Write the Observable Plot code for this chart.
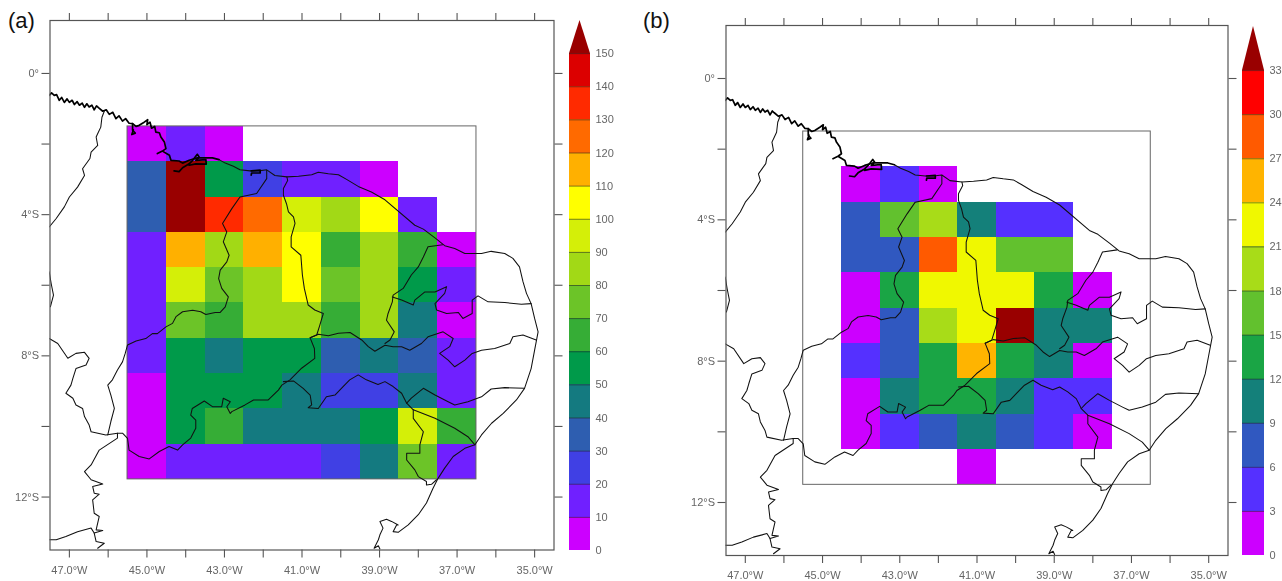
<!DOCTYPE html>
<html>
<head>
<meta charset="utf-8">
<script src="https://cdn.jsdelivr.net/npm/d3@7"></script>
<script src="https://cdn.jsdelivr.net/npm/@observablehq/plot@0.6"></script>
<style>
html,body{margin:0;padding:0;background:#fff;width:1282px;height:581px;overflow:hidden}
.slot{position:absolute;top:0}
.slot svg{display:block;background:transparent;filter:blur(.35px)}
.tag{position:absolute;font:22px "Liberation Sans",Arial,sans-serif;color:#111;line-height:22px}
</style>
</head>
<body>
<div class="tag" style="left:8px;top:10px">(a)</div>
<div class="tag" style="left:643px;top:10px">(b)</div>
<div class="slot" id="mapA" style="left:0"></div>
<div class="slot" id="barA" style="left:565px"></div>
<div class="slot" id="mapB" style="left:640px"></div>
<div class="slot" id="barB" style="left:1238px"></div>
<script>
// ---- panel (a): accumulated value per grid cell ----
const lonsA = [-45,-44,-43,-42,-41,-40,-39,-38,-37];
const latsA = [-2,-3,-4,-5,-6,-7,-8,-9,-10,-11];
const gridA = [
  [5,15,5,null,null,null,null,null,null],
  [35,155,55,25,15,15,5,null,null],
  [35,155,135,125,95,85,105,15,null],
  [15,115,85,115,105,65,85,65,5],
  [15,95,75,85,105,75,85,55,15],
  [15,75,65,85,85,65,85,45,5],
  [15,55,45,55,55,35,45,35,15],
  [5,55,55,55,45,25,25,45,15],
  [5,55,65,45,45,45,55,95,65],
  [5,15,15,15,15,25,45,75,15]
];
const levelsA = [10,20,30,40,50,60,70,80,90,100,110,120,130,140,150];
const coloursA = ["#cc00ff","#7020ff","#4040e4","#2e5eb0","#147a80","#009a4a","#36ad36","#6cc428","#a2d916","#d4ef08","#ffff00","#ffb000","#ff6a00","#ff2a00","#dc0000","#990000"];
const barTicksA = [0,10,20,30,40,50,60,70,80,90,100,110,120,130,140,150];

// ---- panel (b) ----
const lonsB = [-44,-43,-42,-41,-40,-39,-38];
const latsB = [-3,-4,-5,-6,-7,-8,-9,-10,-11];
const gridB = [
  [1.5,4.5,1.5,null,null,null,null],
  [7.5,16.5,19.5,10.5,4.5,4.5,null],
  [7.5,7.5,28.5,22.5,16.5,16.5,null],
  [1.5,13.5,22.5,22.5,22.5,13.5,1.5],
  [1.5,7.5,19.5,22.5,34.5,10.5,10.5],
  [4.5,7.5,13.5,25.5,13.5,10.5,1.5],
  [1.5,10.5,13.5,13.5,10.5,4.5,4.5],
  [1.5,4.5,7.5,10.5,7.5,4.5,1.5],
  [null,null,null,1.5,null,null,null]
];
const levelsB = [3,6,9,12,15,18,21,24,27,30,33];
const coloursB = ["#cc00ff","#5530ff","#3058c0","#14807a","#1aa545","#62c12e","#a8dc18","#f0f800","#ffb400","#ff5a00","#ff0000","#990000"];
const barTicksB = [0,3,6,9,12,15,18,21,24,27,30,33];

// ---- axes ----
const lonTicks = [-47,-46,-45,-44,-43,-42,-41,-40,-39,-38,-37,-36,-35];
const lonLabels = ["47.0°W","","45.0°W","","43.0°W","","41.0°W","","39.0°W","","37.0°W","","35.0°W"];
const latTicks = [0,-2,-4,-6,-8,-10,-12];
const latLabels = ["0°","","4°S","","8°S","","12°S"];
const lonDomain = [-47.5,-34.5];
const latDomain = [-13.5,1.5];
const analysisBox = [{w:-45.5,e:-36.5,n:-1.5,s:-11.5}];

const coastNorth = [[-47.52,-0.62],[-47.46,-0.55],[-47.39,-0.62],[-47.33,-0.60],[-47.26,-0.76],[-47.2,-0.68],[-47.13,-0.82],[-47.06,-0.72],[-47.0,-0.82],[-46.93,-0.76],[-46.87,-0.88],[-46.80,-0.80],[-46.74,-0.90],[-46.67,-0.84],[-46.61,-0.96],[-46.55,-0.86],[-46.49,-0.95],[-46.42,-0.90],[-46.36,-1.03],[-46.3,-0.92],[-46.25,-0.97],[-46.14,-1.07],[-46.05,-1.03],[-45.97,-1.16],[-45.88,-1.10],[-45.80,-1.28],[-45.72,-1.2],[-45.63,-1.35],[-45.55,-1.28],[-45.46,-1.41],[-45.37,-1.42],[-45.28,-1.5],[-45.2,-1.47],[-45.07,-1.38],[-44.98,-1.31],[-45.0,-1.45],[-44.92,-1.38],[-44.88,-1.55],[-44.80,-1.5],[-44.77,-1.66],[-44.68,-1.68],[-44.64,-1.80],[-44.55,-1.94],[-44.51,-2.13],[-44.60,-2.20],[-44.73,-2.27],[-44.60,-2.20],[-44.42,-2.32],[-44.38,-2.46],[-44.17,-2.48],[-44.08,-2.54],[-43.91,-2.46],[-43.70,-2.39],[-43.48,-2.39],[-43.31,-2.39],[-43.14,-2.44]];
const bayA = [[-45.37,-1.42],[-45.37,-1.61],[-45.30,-1.69],[-45.39,-1.73],[-45.35,-1.60]];
const bayB = [[-44.30,-2.76],[-44.17,-2.78],[-44.08,-2.67],[-43.91,-2.56],[-43.82,-2.46],[-43.70,-2.29],[-43.65,-2.37],[-43.74,-2.46],[-43.48,-2.44],[-43.47,-2.57],[-43.74,-2.56],[-43.91,-2.60]];
const bayC = [[-42.31,-2.76],[-42.08,-2.74],[-42.08,-2.82],[-42.30,-2.82],[-42.31,-2.88]];
const coastEast = [[-43.14,-2.44],[-42.98,-2.54],[-42.77,-2.63],[-42.60,-2.73],[-42.34,-2.76],[-42.12,-2.76],[-41.91,-2.73],[-41.70,-2.89],[-41.39,-2.93],[-41.09,-2.91],[-40.75,-2.87],[-40.58,-2.80],[-40.32,-2.84],[-40.06,-2.87],[-39.85,-3.0],[-39.55,-3.20],[-39.21,-3.36],[-38.86,-3.58],[-38.09,-4.30],[-37.87,-4.41],[-37.57,-4.66],[-37.32,-4.88],[-37.06,-4.96],[-36.80,-5.10],[-36.37,-5.10],[-36.12,-5.04],[-35.77,-5.10],[-35.56,-5.24],[-35.39,-5.48],[-35.30,-5.90],[-35.21,-6.23],[-35.09,-6.52],[-35.0,-6.94],[-34.91,-7.32],[-35.0,-7.84],[-35.09,-8.36],[-35.26,-8.92],[-35.47,-9.25],[-35.81,-9.63],[-36.11,-9.91],[-36.37,-10.24],[-36.54,-10.52],[-36.80,-10.62],[-37.10,-10.85],[-37.32,-11.18],[-37.49,-11.47],[-37.62,-11.75],[-37.79,-12.17],[-38.0,-12.50],[-38.26,-12.79],[-38.52,-13.0],[-38.65,-12.98],[-38.56,-12.79],[-38.52,-12.79],[-38.69,-12.69],[-38.82,-12.63],[-38.99,-12.69],[-38.91,-12.88],[-38.99,-13.07],[-39.03,-13.21],[-39.14,-13.45],[-39.03,-13.38],[-38.99,-13.47]];
const borderParaMaranhao = [[-46.10,-1.07],[-46.16,-1.24],[-46.19,-1.52],[-46.25,-1.66],[-46.31,-1.80],[-46.27,-2.04],[-46.44,-2.23],[-46.47,-2.41],[-46.66,-2.70],[-46.61,-2.89],[-46.79,-3.22],[-47.0,-3.50],[-47.13,-3.78],[-47.34,-4.11],[-47.52,-4.35]];
const borderEdge = [[-47.52,-5.62],[-47.47,-5.95],[-47.41,-6.28],[-47.49,-6.61]];
const borderWest = [[-47.52,-7.51],[-47.30,-7.65],[-47.04,-8.07],[-46.83,-7.93],[-46.61,-7.90],[-46.49,-8.07],[-46.57,-8.26],[-46.83,-8.36],[-46.91,-8.64],[-46.96,-8.83],[-47.09,-9.06],[-46.91,-9.20],[-46.83,-9.39],[-46.66,-9.49],[-46.61,-9.72],[-46.49,-9.96],[-46.44,-10.15],[-46.06,-10.24],[-45.76,-10.19]];
const borderMaranhaoPiaui = [[-41.91,-2.74],[-41.91,-2.98],[-42.17,-3.40],[-42.60,-3.50],[-42.81,-3.83],[-43.05,-4.25],[-42.94,-4.49],[-43.03,-4.77],[-42.88,-5.15],[-42.94,-5.34],[-43.11,-5.57],[-43.15,-5.81],[-43.07,-6.09],[-42.90,-6.33],[-42.98,-6.61],[-43.11,-6.77],[-43.24,-6.77],[-43.48,-6.83],[-43.61,-6.75],[-43.82,-6.71],[-44.08,-6.75],[-44.25,-6.89],[-44.34,-7.08],[-44.51,-7.18],[-44.73,-7.37],[-44.86,-7.37],[-45.03,-7.51],[-45.28,-7.58],[-45.50,-7.69],[-45.56,-7.93],[-45.63,-8.17],[-45.76,-8.40],[-45.89,-8.68],[-46.01,-8.83],[-45.93,-9.11],[-45.84,-9.49],[-45.93,-9.86],[-46.01,-10.24]];
const borderPiauiCeara = [[-41.39,-2.93],[-41.37,-3.03],[-41.48,-3.26],[-41.48,-3.45],[-41.40,-3.69],[-41.35,-3.92],[-41.22,-4.06],[-41.18,-4.25],[-41.28,-4.63],[-41.28,-4.91],[-41.03,-5.15],[-40.99,-5.71],[-40.94,-6.09],[-40.84,-6.56],[-40.67,-6.70],[-40.45,-6.80],[-40.54,-7.13],[-40.62,-7.41],[-40.79,-7.49],[-40.68,-7.79],[-40.67,-8.07],[-41.01,-8.35],[-41.31,-8.68],[-41.52,-8.83],[-41.61,-8.97],[-41.87,-9.25],[-42.25,-9.25],[-42.47,-9.39],[-42.81,-9.58],[-42.85,-9.63],[-42.94,-9.44],[-42.85,-9.30],[-43.03,-9.20],[-43.07,-9.44],[-43.24,-9.44],[-43.31,-9.44],[-43.52,-9.28],[-43.83,-9.49],[-43.87,-9.68],[-43.74,-9.82],[-43.74,-10.05],[-43.87,-10.33],[-44.08,-10.52],[-44.21,-10.67],[-44.43,-10.57],[-44.68,-10.71],[-44.94,-10.92],[-45.20,-10.85],[-45.46,-10.67],[-45.50,-10.34],[-45.63,-10.19],[-45.76,-10.19]];
const borderSouthWest = [[-45.76,-10.19],[-45.76,-10.33],[-46.23,-10.67],[-46.44,-11.09],[-46.61,-11.28],[-46.44,-11.51],[-46.14,-11.63],[-46.40,-11.70],[-46.36,-11.89],[-46.23,-11.92],[-46.40,-12.08],[-46.36,-12.46],[-46.23,-12.55],[-46.31,-12.93],[-46.14,-12.95],[-46.36,-13.02],[-46.31,-13.26],[-46.10,-13.31],[-46.27,-13.45]];
const borderGoias = [[-47.52,-13.21],[-47.34,-13.21],[-47.09,-13.12],[-46.79,-12.98],[-46.44,-12.88],[-46.36,-13.02]];
const borderPernambucoN = [[-40.79,-7.49],[-40.58,-7.39],[-40.32,-7.43],[-40.06,-7.36],[-39.76,-7.34],[-39.46,-7.55],[-39.29,-7.74],[-39.12,-7.87],[-38.86,-7.70],[-38.65,-7.74],[-38.43,-7.74],[-38.22,-7.84],[-37.92,-7.65],[-37.75,-7.46],[-37.36,-7.32],[-37.10,-7.51],[-37.19,-7.74],[-37.45,-7.93],[-37.23,-8.12],[-37.06,-8.31],[-36.80,-8.12],[-36.61,-7.93],[-36.37,-7.84],[-36.03,-7.79],[-35.64,-7.65],[-35.56,-7.46],[-35.30,-7.41],[-34.96,-7.55]];
const borderCearaRN = [[-37.37,-4.85],[-37.75,-4.91],[-37.87,-5.20],[-38.0,-5.48],[-38.18,-5.71],[-38.39,-6.09],[-38.65,-6.28],[-38.67,-6.47],[-38.78,-6.80],[-38.82,-6.99],[-38.62,-7.32],[-38.73,-7.55],[-38.86,-7.65]];
const borderParaibaRN = [[-38.67,-6.33],[-38.43,-6.42],[-38.13,-6.56],[-38.09,-6.42],[-37.83,-6.19],[-37.57,-6.19],[-37.27,-6.04],[-37.32,-6.23],[-37.57,-6.52],[-37.53,-6.70],[-37.27,-6.80],[-36.97,-6.77],[-36.85,-6.94],[-36.61,-6.80],[-36.61,-6.42],[-36.46,-6.30],[-36.20,-6.47],[-35.77,-6.49],[-35.34,-6.54],[-35.09,-6.52]];
const borderBahiaN = [[-41.48,-8.73],[-41.22,-8.71],[-40.97,-8.92],[-40.79,-9.11],[-40.75,-9.39],[-40.84,-9.47],[-40.58,-9.49],[-40.37,-9.16],[-40.15,-9.11],[-39.94,-8.87],[-39.77,-8.68],[-39.55,-8.54],[-39.34,-8.68],[-39.04,-8.81],[-38.86,-8.73],[-38.65,-8.87],[-38.43,-9.06],[-38.30,-9.34],[-38.13,-9.53],[-37.57,-9.77],[-37.06,-10.05],[-36.72,-10.29],[-36.54,-10.52]];
const borderAlagoas = [[-38.30,-9.34],[-38.18,-9.20],[-37.87,-8.92],[-37.57,-9.11],[-37.23,-9.30],[-37.06,-9.39],[-36.72,-9.30],[-36.37,-9.16],[-36.12,-8.94],[-35.77,-8.90],[-35.26,-8.92]];
const borderSergipe = [[-38.13,-9.53],[-38.13,-9.77],[-37.87,-10.15],[-37.96,-10.52],[-37.96,-10.76],[-38.30,-10.76],[-38.30,-10.95],[-38.09,-11.23],[-38.0,-11.42],[-37.79,-11.56],[-37.79,-11.66],[-37.66,-11.64],[-37.53,-11.51]];

const thickLines = [coastNorth, bayA, bayB, bayC];
const thinLines = [coastEast, borderParaMaranhao, borderEdge, borderWest, borderMaranhaoPiaui, borderPiauiCeara, borderSouthWest, borderGoias, borderPernambucoN, borderCearaRN, borderParaibaRN, borderBahiaN, borderAlagoas, borderSergipe];

const flatten = lines => lines.flatMap((pts, id) => pts.map(p => ({lon: p[0], lat: p[1], id})));
const cells = (lons, lats, grid) => grid.flatMap((row, r) => row.map((v, c) => ({lon: lons[c], lat: lats[r], v})).filter(d => d.v !== null));
const noLabel = () => "";

function mapPlot(lons, lats, grid, levels, colours, width, height, left, right, top, bottom) {
  const axisStyle = {tickSize: 8, stroke: "#555", strokeWidth: 1.1, fill: "#666", fontSize: 11, label: null};
  return Plot.plot({
    width, height,
    marginLeft: left, marginRight: right, marginTop: top, marginBottom: bottom,
    style: {fontFamily: '"Liberation Sans",Arial,sans-serif', background: "transparent", overflow: "visible"},
    x: {domain: lonDomain, axis: null},
    y: {domain: latDomain, axis: null},
    color: {type: "threshold", domain: levels, range: colours},
    marks: [
      Plot.rect(cells(lons, lats, grid), {
        x1: d => d.lon - 0.5, x2: d => d.lon + 0.5,
        y1: d => d.lat - 0.5, y2: d => d.lat + 0.5,
        fill: "v", shapeRendering: "crispEdges"
      }),
      Plot.rect(analysisBox, {x1: "w", x2: "e", y1: "s", y2: "n", fill: "none", stroke: "#666", strokeWidth: 1}),
      Plot.line(flatten(thinLines), {x: "lon", y: "lat", z: "id", stroke: "#111", strokeWidth: 1.05, clip: "frame"}),
      Plot.line(flatten(thickLines), {x: "lon", y: "lat", z: "id", stroke: "#000", strokeWidth: 1.7, clip: "frame"}),
      Plot.axisX({anchor: "bottom", ticks: lonTicks, tickFormat: (d, i) => lonLabels[i], tickPadding: 8, ...axisStyle}),
      Plot.axisX({anchor: "top", ticks: lonTicks, tickFormat: noLabel, ...axisStyle}),
      Plot.axisY({anchor: "left", ticks: latTicks, tickFormat: (d, i) => latLabels[i], tickPadding: 3, ...axisStyle}),
      Plot.axisY({anchor: "right", ticks: latTicks, tickFormat: noLabel, ...axisStyle}),
      Plot.frame({stroke: "#555", strokeWidth: 1.2})
    ]
  });
}

function barPlot(levels, colours, ticks, top, bottom, width, height, barWidth) {
  const step = levels[1] - levels[0];
  const edges = [0, ...levels];
  const maxV = levels[levels.length - 1];
  const segs = edges.map((lo, i) => ({lo, hi: levels[i], c: colours[i]})).filter(d => d.hi !== undefined);
  const tip = [{x: 0, y2: maxV}, {x: 0.5, y2: maxV + step}, {x: 1, y2: maxV}];
  return Plot.plot({
    width, height,
    marginLeft: 4, marginRight: width - 4 - barWidth, marginTop: top, marginBottom: bottom,
    style: {fontFamily: '"Liberation Sans",Arial,sans-serif', background: "transparent", overflow: "visible"},
    x: {domain: [0, 1], axis: null},
    y: {domain: [0, maxV + step], axis: null},
    marks: [
      Plot.rect(segs, {x1: () => 0, x2: () => 1, y1: "lo", y2: "hi", fill: "c", shapeRendering: "crispEdges"}),
      Plot.areaY(tip, {x: "x", y1: () => maxV, y2: "y2", fill: colours[colours.length - 1]}),
      Plot.ruleY(levels, {stroke: "#222", strokeOpacity: 0.55, strokeWidth: 1}),
      Plot.axisY({anchor: "right", ticks, tickFormat: d => String(d), tickSize: 0, tickPadding: 5, fill: "#666", fontSize: 11, label: null})
    ]
  });
}

document.getElementById("mapA").append(mapPlot(lonsA, latsA, gridA, levelsA, coloursA, 565, 581, 49.5, 11.5, 20, 31.5));
document.getElementById("barA").append(barPlot(levelsA, coloursA, barTicksA, 20, 31, 60, 581, 21));
document.getElementById("mapB").append(mapPlot(lonsB, latsB, gridB, levelsB, coloursB, 598, 581, 85.5, 10.5, 25, 26));
document.getElementById("barB").append(barPlot(levelsB, coloursB, barTicksB, 26, 26, 44, 581, 22));
</script>
</body>
</html>
